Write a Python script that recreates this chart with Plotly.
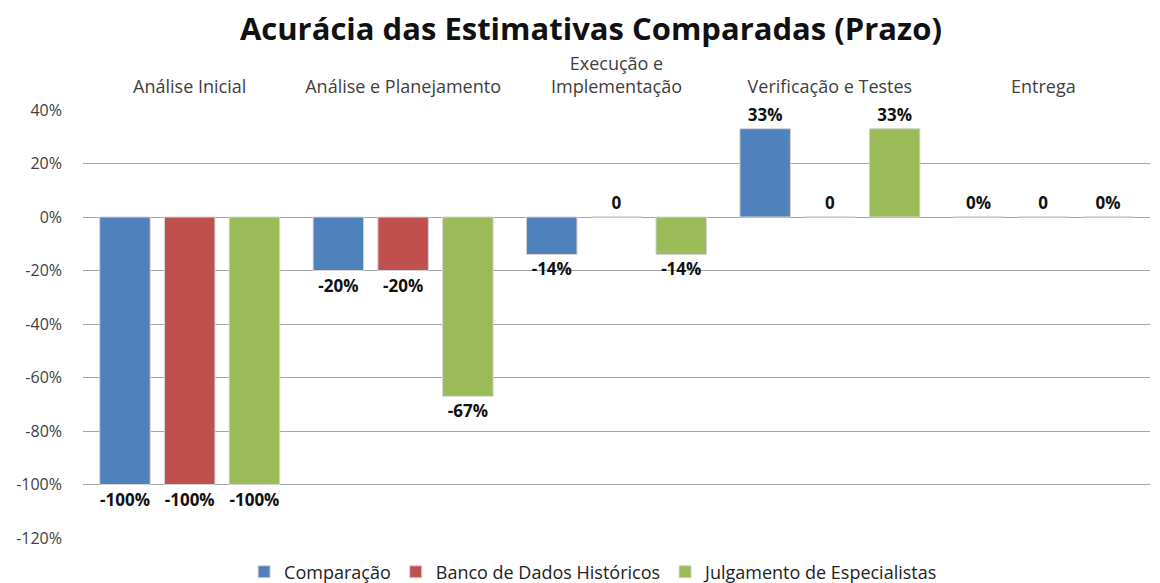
import plotly.graph_objects as go

fases = ['Análise Inicial', 'Análise e Planejamento', 'Execução e<br>Implementação',
         'Verificação e Testes', 'Entrega']

comparacao = [-1.00, -0.20, -0.14, 0.33, 0.0]
comparacao_txt = ['-100%', '-20%', '-14%', '33%', '0%']

banco = [-1.00, -0.20, 0.0, 0.0, 0.0]
banco_txt = ['-100%', '-20%', '0', '0', '0']

julgamento = [-1.00, -0.67, -0.14, 0.33, 0.0]
julgamento_txt = ['-100%', '-67%', '-14%', '33%', '0%']

y_ticks = [0.4, 0.2, 0.0, -0.2, -0.4, -0.6, -0.8, -1.0, -1.2]
y_ticktext = ['40%', '20%', '0%', '-20%', '-40%', '-60%', '-80%', '-100%', '-120%']

fnt = 'Open Sans, sans-serif'

fig = go.Figure()
series = [
    ('Comparação', comparacao, comparacao_txt, '#4F81BD'),
    ('Banco de Dados Históricos', banco, banco_txt, '#C0504D'),
    ('Julgamento de Especialistas', julgamento, julgamento_txt, '#9BBB59'),
]
for nome, vals, txt, cor in series:
    fig.add_trace(go.Bar(
        x=fases, y=vals, name=nome, text=txt,
        textposition='outside', cliponaxis=False,
        textfont=dict(family=fnt, size=17, color='#111111', weight='bold'),
        marker=dict(color=cor, line=dict(color='#D4D4D4', width=1)),
    ))

# the page body has an 8px margin, so the figure is made 8px smaller to fit
fig.update_layout(
    width=1152, height=575,
    barmode='group', bargap=0.09, bargroupgap=0.22,
    plot_bgcolor='white', paper_bgcolor='white',
    font=dict(family=fnt, size=15, color='#404040'),
    title=dict(text='<b>Acurácia das Estimativas Comparadas (Prazo)</b>',
               x=0.506, xanchor='center', y=0.964, yanchor='middle',
               font=dict(family=fnt, size=31, color='#111111')),
    margin=dict(l=75, r=10, t=102, b=45),
    legend=dict(orientation='h', x=0.479, xanchor='center',
                yref='container', y=0.019, yanchor='middle',
                font=dict(size=18, color='#222222')),
    xaxis=dict(side='top', showgrid=False, showline=False, ticks='',
               automargin=False, ticklabelstandoff=12,
               tickfont=dict(size=18, color='#404040')),
    yaxis=dict(range=[-1.2, 0.4], tickvals=y_ticks, ticktext=y_ticktext,
               automargin=False, ticklabelstandoff=20,
               showgrid=True, gridcolor='#A6A6A6', gridwidth=1,
               zeroline=True, zerolinecolor='#A6A6A6', zerolinewidth=1,
               showline=False, ticks='', tickfont=dict(size=16, color='#404040')),
)

fig.write_html('out.html')
